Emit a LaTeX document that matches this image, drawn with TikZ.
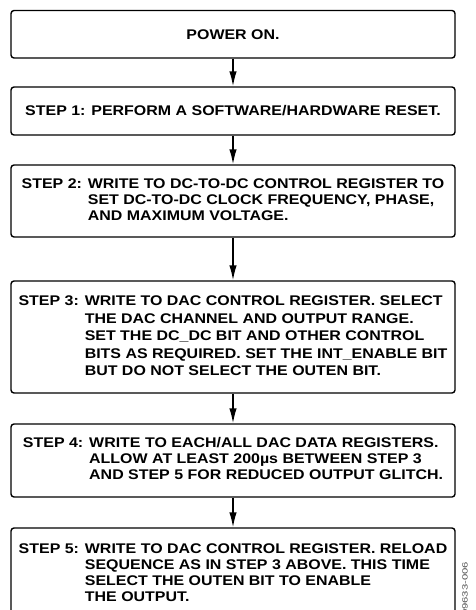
\documentclass[tikz,border=0pt]{standalone}
\usepackage{fontspec}
\setmainfont[FakeStretch=1.14]{Liberation Sans}
\newfontfamily\tagfont[FakeStretch=1.5]{Liberation Sans}
\usetikzlibrary{arrows.meta}

\newcommand{\stepfont}{\fontsize{14}{16}\selectfont\bfseries}

\begin{document}
\begin{tikzpicture}[x=1pt,y=1pt,
        stepbox/.style={draw, line width=1.4pt, rounded corners=3pt, minimum width=444pt, inner sep=0pt, font=\stepfont, align=center},
        flow/.style={-{Latex[length=15pt,width=7.5pt]}, line width=1.5pt}]
                \useasboundingbox (0,0) rectangle (475,-610);
                \node[stepbox, minimum height=47.5pt] (power) at (233,-34.25) {POWER ON.};
                \node[stepbox, minimum height=48pt] (step1) at (233,-111) {STEP 1: PERFORM A SOFTWARE/HARDWARE RESET.};
                \node[stepbox, minimum height=72pt] (step2) at (233,-201) {\begin{tabular}{@{}l@{ }l@{}}
                    STEP 2: & WRITE TO DC-TO-DC CONTROL REGISTER TO\\
                            & SET DC-TO-DC CLOCK FREQUENCY, PHASE,\\
                            & AND MAXIMUM VOLTAGE.
                    \end{tabular}};
                \node[stepbox, minimum height=112pt] (step3) at (233,-337) {\fontsize{14}{17.5}\selectfont\begin{tabular}{@{}l@{ }l@{}}
                    STEP 3: & WRITE TO DAC CONTROL REGISTER. SELECT\\
                            & THE DAC CHANNEL AND OUTPUT RANGE.\\
                            & SET THE DC\_DC BIT AND OTHER CONTROL\\
                            & BITS AS REQUIRED. SET THE INT\_ENABLE BIT\\
                            & BUT DO NOT SELECT THE OUTEN BIT.
                    \end{tabular}};
                \node[stepbox, minimum height=73pt] (step4) at (233,-460.5) {\begin{tabular}{@{}l@{ }l@{}}
                    STEP 4: & WRITE TO EACH/ALL DAC DATA REGISTERS.\\
                            & ALLOW AT LEAST 200µs BETWEEN STEP 3\\
                            & AND STEP 5 FOR REDUCED OUTPUT GLITCH.
                    \end{tabular}};
                \node[stepbox, minimum height=92pt] (step5) at (233,-574) {\begin{tabular}{@{}l@{ }l@{}}
                    STEP 5: & WRITE TO DAC CONTROL REGISTER. RELOAD\\
                            & SEQUENCE AS IN STEP 3 ABOVE. THIS TIME\\
                            & SELECT THE OUTEN BIT TO ENABLE\\
                            & THE OUTPUT.
                    \end{tabular}};
                \node[rotate=90, inner sep=0pt, text=black!70, font=\tagfont\fontsize{7.5}{7.5}\selectfont] (figno) at (465,-589) {09633-006};
                % arrows down the sequence
                \draw[flow] (power) -- (step1);
                \draw[flow] (step1) -- (step2);
                \draw[flow] (step2) -- (step3);
                \draw[flow] (step3) -- (step4);
                \draw[flow] (step4) -- (step5);
            \end{tikzpicture}
\end{document}
